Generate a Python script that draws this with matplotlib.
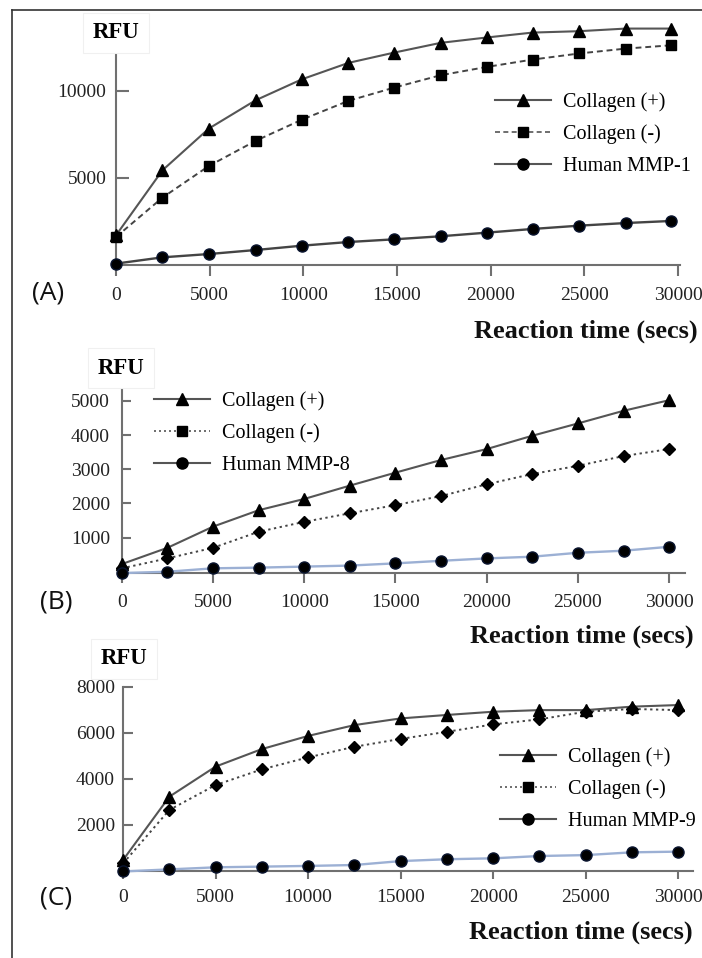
import matplotlib
matplotlib.use("Agg")
import matplotlib.pyplot as plt
from matplotlib.lines import Line2D

# ---- data ----
time_a = [0, 2480, 4960, 7450, 9930, 12410, 14850, 17330, 19810, 22240, 24730, 27210, 29640]
time_bc = [0, 2500, 5000, 7500, 10000, 12500, 15000, 17500, 20000, 22500, 25000, 27500, 30000]

a_col_plus = [1705, 5440, 7840, 9460, 10670, 11610, 12200, 12760, 13070, 13350, 13430, 13580, 13580]
a_col_minus = [1610, 3870, 5690, 7130, 8350, 9430, 10190, 10900, 11380, 11800, 12150, 12430, 12620]
a_mmp = [80, 440, 630, 860, 1110, 1320, 1475, 1650, 1860, 2070, 2260, 2410, 2530]

b_col_plus = [224, 700, 1320, 1800, 2130, 2520, 2900, 3270, 3590, 3980, 4340, 4710, 5020]
b_col_minus = [100, 390, 700, 1170, 1460, 1710, 1950, 2215, 2560, 2860, 3100, 3385, 3590]
b_mmp = [-40, 0, 100, 120, 150, 180, 245, 320, 390, 440, 555, 615, 730]

c_col_plus = [480, 3225, 4530, 5290, 5860, 6330, 6620, 6770, 6910, 6980, 6980, 7130, 7200]
c_col_minus = [330, 2650, 3730, 4410, 4930, 5390, 5730, 6040, 6360, 6580, 6910, 7030, 6980]
c_mmp = [-20, 70, 160, 190, 220, 260, 430, 510, 550, 650, 690, 810, 840]

yticks_a = [5000, 10000]
yticks_b = [1000, 2000, 3000, 4000, 5000]
yticks_c = [2000, 4000, 6000, 8000]
xticks = [0, 5000, 10000, 15000, 20000, 25000, 30000]

labels_a = ["Collagen (+)", "Collagen (-)", "Human MMP-1"]
labels_b = ["Collagen (+)", "Collagen (-)", "Human MMP-8"]
labels_c = ["Collagen (+)", "Collagen (-)", "Human MMP-9"]

W, H = 702, 958
SERIF = "Liberation Serif"
AXC = "#707070"
PLUSC = "#555555"
BLUE = "#9cb0d4"

fig = plt.figure(figsize=(W / 100, H / 100), dpi=100)

# frame lines (top and left only visible)
fig.add_artist(Line2D([12 / W, 1], [1 - 10 / H, 1 - 10 / H], transform=fig.transFigure, color="#333333", lw=1.2))
fig.add_artist(Line2D([12 / W, 12 / W], [0, 1 - 10 / H], transform=fig.transFigure, color="#333333", lw=1.2))


def px_axes(left, right, top, bottom):
    return fig.add_axes([left / W, 1 - bottom / H, (right - left) / W, (bottom - top) / H])


def style(ax, xlim, ylim, ytop, yticks, xtick_len, xpad, ytick_len, ypad):
    ax.set_xlim(*xlim)
    ax.set_ylim(*ylim)
    for s in ("top", "right"):
        ax.spines[s].set_visible(False)
    for s in ("left", "bottom"):
        ax.spines[s].set_color(AXC)
        ax.spines[s].set_linewidth(1.5)
    ax.spines["left"].set_bounds(ylim[0], ytop)
    ax.set_xticks(xticks)
    ax.set_xticklabels([str(v) for v in xticks])
    ax.set_yticks(yticks)
    ax.set_yticklabels([str(v) for v in yticks])
    ax.tick_params(axis="x", direction="out", length=xtick_len, width=1.5, color=AXC, pad=xpad)
    ax.tick_params(axis="y", direction="in", length=ytick_len, width=1.5, color=AXC, pad=ypad)
    for t in ax.get_xticklabels() + ax.get_yticklabels():
        t.set_fontfamily(SERIF)
        t.set_fontsize(14)
        t.set_color("#222222")
    ax.patch.set_alpha(0)


def draw(ax, t, plus, minus, mmp, minus_marker, minus_ls, mmp_color):
    ax.plot(t, plus, color=PLUSC, lw=1.5, marker="^", ms=9, mfc="black", mec="black", clip_on=False, zorder=3)
    ax.plot(t, minus, color="#444444", lw=1.4, ls=minus_ls, marker=minus_marker,
            ms=7 if minus_marker == "s" else 6.5, mfc="black", mec="black", clip_on=False, zorder=3)
    ax.plot(t, mmp, color=mmp_color, lw=1.7, marker="o", ms=8, mfc="black", mec="#0a1530", clip_on=False, zorder=3)


def legend(ax, labels, minus_ls, x, y):
    handles = [
        Line2D([], [], color=PLUSC, lw=1.5, marker="^", ms=9, mfc="black", mec="black"),
        Line2D([], [], color="#555555", lw=1.2, ls=minus_ls, marker="s", ms=7, mfc="black", mec="black"),
        Line2D([], [], color=PLUSC, lw=1.5, marker="o", ms=8, mfc="black", mec="black"),
    ]
    ax.legend(handles, labels, loc="upper left", bbox_to_anchor=(x / W, 1 - y / H),
              bbox_transform=fig.transFigure, frameon=False, borderpad=0, borderaxespad=0,
              handlelength=2.8, handletextpad=0.6, labelspacing=0.63,
              prop={"family": SERIF, "size": 14.5})


def rfu(x, y):
    fig.text(x / W, 1 - y / H, "RFU", family=SERIF, weight="bold", size=16.5, ha="center", va="center",
             bbox=dict(boxstyle="square,pad=0.4", fc="white", ec="#f0f0f0", lw=0.8))


def xlabel(x, y):
    fig.text(x / W, 1 - y / H, "Reaction time (secs)", family=SERIF, weight="bold", size=19,
             ha="right", va="center", color="#111111")


def panel_tag(txt, x, y):
    fig.text(x / W, 1 - y / H, txt, family="Open Sans", size=19, ha="center", va="center", color="#111111")


# ---- panel A ----
axA = px_axes(116, 680, 23, 265)
style(axA, (0, 30107), (0, 13900), 12200, yticks_a, 8, 7.5, 9, 7)
draw(axA, time_a, a_col_plus, a_col_minus, a_mmp, "s", (0, (3, 2)), "#444444")
legend(axA, labels_a, (0, (3, 2)), 495, 92)
rfu(116, 33)
xlabel(698, 331)
panel_tag("(A)", 48, 293)

# ---- panel B ----
axB = px_axes(121.8, 685, 387.2, 573.1)
style(axB, (0, 30866), (-40, 5400), 5366, yticks_b, 7, 8.3, 6.5, 8.6)
draw(axB, time_bc, b_col_plus, b_col_minus, b_mmp, "D", (0, (1.2, 1.8)), BLUE)
legend(axB, labels_b, (0, (1.2, 1.8)), 154, 391)
rfu(121, 368)
xlabel(694, 636)
panel_tag("(B)", 56, 602)

# ---- panel C ----
axC = px_axes(123.1, 693, 686.6, 871)
style(axC, (0, 30800), (0, 8000), 8000, yticks_c, 5.8, 7.5, 7, 6)
draw(axC, time_bc, c_col_plus, c_col_minus, c_mmp, "D", (0, (1.2, 1.8)), BLUE)
legend(axC, labels_c, (0, (1.2, 1.8)), 500, 747)
rfu(124, 659)
xlabel(693, 932)
panel_tag("(C)", 56, 898)

fig.savefig("out.png", dpi=100)
